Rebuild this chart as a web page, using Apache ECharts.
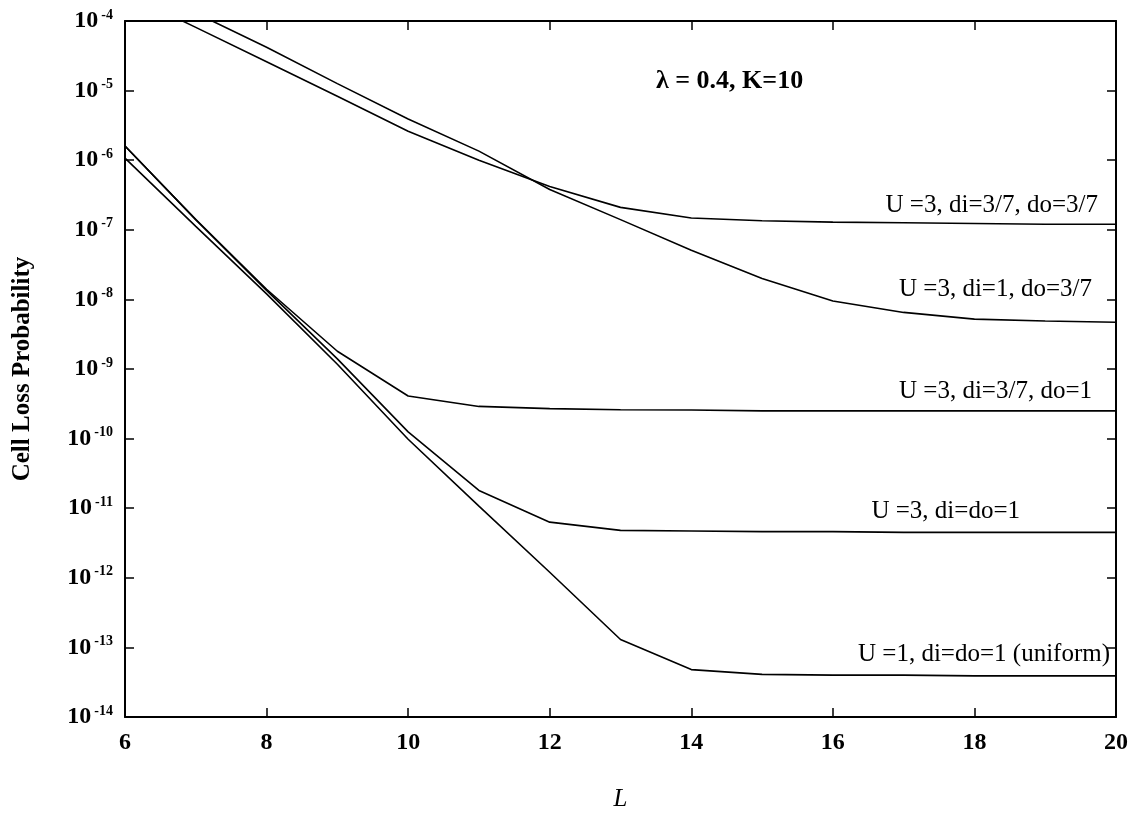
<!DOCTYPE html>
<html>
<head>
<meta charset="utf-8">
<script src="https://cdn.jsdelivr.net/npm/echarts@6/dist/echarts.min.js"></script>
<style>
    html, body { margin: 0; padding: 0; background: #fff; }
    #cell_loss { width: 1134px; height: 817px; }
</style>
</head>
<body>
<div id="cell_loss"></div>
<script>
// 缓冲长度 L
var bufferLength = [6, 7, 8, 9, 10, 11, 12, 13, 14, 15, 16, 17, 18, 19, 20];

// 各曲线的信元丢失概率
var u3Di37Do37 = [2.5e-4, 8.1e-5, 2.6e-5, 8.3e-6, 2.6e-6, 1.0e-6, 4.2e-7, 2.1e-7, 1.48e-7, 1.35e-7, 1.29e-7, 1.26e-7, 1.23e-7, 1.2e-7, 1.2e-7];
var u3Di1Do37 = [4.0e-4, 1.3e-4, 4.2e-5, 1.26e-5, 3.9e-6, 1.35e-6, 3.8e-7, 1.4e-7, 5.1e-8, 2.0e-8, 9.5e-9, 6.5e-9, 5.2e-9, 4.9e-9, 4.7e-9];
var u3Di37Do1 = [1.6e-6, 1.4e-7, 1.4e-8, 1.8e-9, 4.1e-10, 2.9e-10, 2.7e-10, 2.6e-10, 2.57e-10, 2.5e-10, 2.5e-10, 2.5e-10, 2.5e-10, 2.5e-10, 2.5e-10];
var u3DiDo1 = [1.6e-6, 1.4e-7, 1.35e-8, 1.4e-9, 1.25e-10, 1.8e-11, 6.3e-12, 4.8e-12, 4.7e-12, 4.6e-12, 4.6e-12, 4.5e-12, 4.5e-12, 4.5e-12, 4.5e-12];
var uniform = [1.07e-6, 1.12e-7, 1.2e-8, 1.17e-9, 9.8e-11, 1.07e-11, 1.2e-12, 1.3e-13, 4.8e-14, 4.1e-14, 4.0e-14, 4.0e-14, 3.9e-14, 3.9e-14, 3.9e-14];

var seriesNames = ['U =3, di=3/7, do=3/7', 'U =3, di=1, do=3/7', 'U =3, di=3/7, do=1', 'U =3, di=do=1', 'U =1, di=do=1 (uniform)'];
var seriesValues = [u3Di37Do37, u3Di1Do37, u3Di37Do1, u3DiDo1, uniform];

var FONT = '"Liberation Serif", "DejaVu Serif", serif';

function pairs(values) {
    return bufferLength.map(function (l, i) {
        return [l, values[i]];
    });
}

function cellLossChart() {
    var myChart = echarts.init(document.getElementById('cell_loss'));

    var series = seriesValues.map(function (values, i) {
        return {
            name: seriesNames[i],
            type: 'line',
            xAxisIndex: 0,
            yAxisIndex: 0,
            showSymbol: false,
            clip: true,
            lineStyle: {color: '#000', width: 1.6},
            data: pairs(values)
        };
    });

    var tickStyle = {show: true, inside: true, length: 9, lineStyle: {color: '#000', width: 1.5}};
    var lineStyle = {show: true, onZero: false, lineStyle: {color: '#000', width: 2}};

    var option = {
        animation: false,
        backgroundColor: '#fff',
        grid: {left: 125, right: 18, top: 21, bottom: 99},
        xAxis: [
            {
                type: 'value',
                min: 6,
                max: 20,
                interval: 2,
                name: 'L',
                nameLocation: 'middle',
                nameGap: 70,
                nameTextStyle: {fontFamily: FONT, fontStyle: 'italic', fontSize: 25, color: '#000'},
                axisLine: lineStyle,
                axisTick: tickStyle,
                splitLine: {show: false},
                axisLabel: {fontFamily: FONT, fontWeight: 'bold', fontSize: 24, color: '#000', margin: 14}
            },
            {
                type: 'value',
                position: 'top',
                min: 6,
                max: 20,
                interval: 2,
                axisLine: lineStyle,
                axisTick: tickStyle,
                splitLine: {show: false},
                axisLabel: {show: false}
            }
        ],
        yAxis: [
            {
                type: 'log',
                logBase: 10,
                min: 1e-14,
                max: 1e-4,
                interval: 1,
                name: 'Cell Loss Probability',
                nameLocation: 'middle',
                nameGap: 90,
                nameTextStyle: {fontFamily: FONT, fontWeight: 'bold', fontSize: 25, color: '#000'},
                axisLine: lineStyle,
                axisTick: tickStyle,
                minorTick: {show: false},
                splitLine: {show: false},
                axisLabel: {
                    margin: 12,
                    formatter: function (v) {
                        var e = Math.round(Math.log10(v));
                        return '{b|10}{s|' + e + '}';
                    },
                    rich: {
                        b: {fontFamily: FONT, fontWeight: 'bold', fontSize: 24, color: '#000', lineHeight: 26},
                        s: {fontFamily: FONT, fontWeight: 'bold', fontSize: 14, color: '#000', verticalAlign: 'top', lineHeight: 26, padding: [0, 0, 9, 3]}
                    }
                }
            },
            {
                type: 'log',
                logBase: 10,
                position: 'right',
                min: 1e-14,
                max: 1e-4,
                interval: 1,
                axisLine: lineStyle,
                axisTick: tickStyle,
                splitLine: {show: false},
                axisLabel: {show: false}
            }
        ],
        graphic: [
            {type: 'text', left: 656, top: 68, style: {text: 'λ = 0.4, K=10', font: 'bold 26px ' + FONT, fill: '#000'}},
            {type: 'text', right: 36, top: 193, style: {text: seriesNames[0], font: '25px ' + FONT, fill: '#000'}},
            {type: 'text', right: 42, top: 277, style: {text: seriesNames[1], font: '25px ' + FONT, fill: '#000'}},
            {type: 'text', right: 42, top: 379, style: {text: seriesNames[2], font: '25px ' + FONT, fill: '#000'}},
            {type: 'text', right: 114, top: 499, style: {text: seriesNames[3], font: '25px ' + FONT, fill: '#000'}},
            {type: 'text', right: 24, top: 642, style: {text: seriesNames[4], font: '25px ' + FONT, fill: '#000'}}
        ],
        series: series
    };
    if (option && typeof option === "object") {
        myChart.setOption(option, true);
    }
}

cellLossChart();
</script>
</body>
</html>
